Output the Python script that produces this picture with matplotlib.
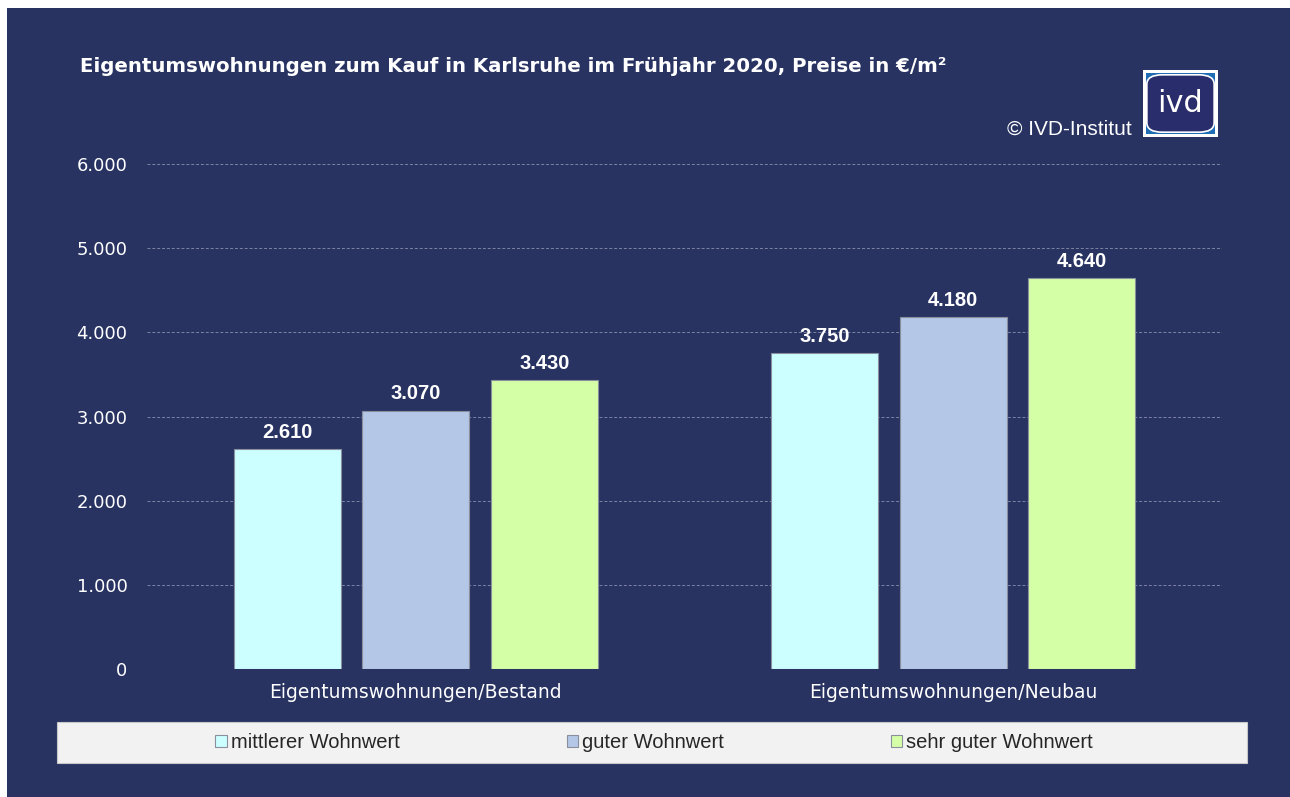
import matplotlib.pyplot as plt
from matplotlib.patches import Rectangle, FancyBboxPatch
from matplotlib.ticker import FuncFormatter

plt.rcParams['font.family'] = ['Liberation Sans', 'DejaVu Sans']

categories = ["Eigentumswohnungen/Bestand", "Eigentumswohnungen/Neubau"]
series_names = ["mittlerer Wohnwert", "guter Wohnwert", "sehr guter Wohnwert"]
mittlerer = [2610, 3750]
guter = [3070, 4180]
sehr_guter = [3430, 4640]
y_ticks = [0, 1000, 2000, 3000, 4000, 5000, 6000]

navy = "#283362"
colors = ["#ccffff", "#b4c7e7", "#d5ffa6"]

fig = plt.figure(figsize=(12.9, 7.97), dpi=100)
fig.patch.set_facecolor("white")
# dunkler Hintergrund
fig.patches.append(Rectangle((7 / 1290, 0), 1, 1 - 8 / 797, transform=fig.transFigure,
                             facecolor=navy, edgecolor="none", zorder=-10))

ax = fig.add_axes([147 / 1290, 1 - 669 / 797, 1075 / 1290, 505 / 797])
ax.set_facecolor("none")

x = range(len(categories))
width = 0.199
step = 0.239
for i, (vals, name) in enumerate(zip([mittlerer, guter, sehr_guter], series_names)):
    pos = [xi + (i - 1) * step for xi in x]
    bars = ax.bar(pos, vals, width, color=colors[i], edgecolor="#8a8f9e",
                  linewidth=0.8, label=name, zorder=3)
    for b, v in zip(bars, vals):
        ax.text(b.get_x() + b.get_width() / 2, v + 90, f"{v:,}".replace(",", "."),
                ha="center", va="bottom", color="white", fontsize=14.5, fontweight="bold")

ax.set_xlim(-0.5, 1.5)
ax.set_ylim(0, 6000)
ax.set_yticks(y_ticks)
ax.yaxis.set_major_formatter(FuncFormatter(lambda v, p: f"{int(v):,}".replace(",", ".")))
ax.set_xticks(list(x))
ax.set_xticklabels(categories)
ax.tick_params(axis="both", length=0, colors="white")
ax.tick_params(axis="y", pad=14)
ax.tick_params(axis="x", pad=10)
for lab in ax.get_yticklabels():
    lab.set_fontfamily(["DejaVu Sans"])
    lab.set_fontsize(13)
for lab in ax.get_xticklabels():
    lab.set_fontfamily(["DejaVu Sans"])
    lab.set_fontsize(13.5)
ax.grid(axis="y", color="#7d84a3", linestyle=(0, (3, 2)), linewidth=0.7, zorder=0)
for s in ax.spines.values():
    s.set_visible(False)

# Titel
fig.text(80 / 1290, 1 - 66 / 797, "Eigentumswohnungen zum Kauf in Karlsruhe im Frühjahr 2020, Preise in €/m²",
         color="white", fontsize=14.2, fontweight="bold", va="center", ha="left",
         family=["DejaVu Sans"])
fig.text(1132 / 1290, 1 - 129 / 797, "© IVD-Institut", color="white", fontsize=15,
         ha="right", va="center")

# ivd Logo
lx, ly, lw, lh = 1143 / 1290, 1 - 137 / 797, 75 / 1290, 67 / 797
fig.patches.append(Rectangle((lx, ly), lw, lh, transform=fig.transFigure,
                             facecolor="white", edgecolor="none", zorder=5))
fig.patches.append(Rectangle((lx + 3 / 1290, ly + 3 / 797), lw - 6 / 1290, lh - 6 / 797,
                             transform=fig.transFigure, facecolor="#1f6db3",
                             edgecolor="none", zorder=6))
fig.patches.append(FancyBboxPatch((lx + 9 / 1290, ly + 8 / 797), lw - 18 / 1290, lh - 16 / 797,
                                  boxstyle="round,pad=0.004,rounding_size=0.012",
                                  transform=fig.transFigure, facecolor="#2a2d6b",
                                  edgecolor="white", linewidth=1.2, zorder=7))
fig.text(lx + lw / 2, ly + lh / 2, "ivd", color="white", fontsize=22,
         ha="center", va="center", zorder=8, family=["DejaVu Sans"])

# Legende
fig.patches.append(Rectangle((57 / 1290, 1 - 763 / 797), 1190 / 1290, 41 / 797,
                             transform=fig.transFigure, facecolor="#f2f2f2",
                             edgecolor="#c8c8c8", linewidth=0.8, zorder=1))
handles, labels = ax.get_legend_handles_labels()
leg = fig.legend(handles, labels, loc="center", ncol=3,
                 bbox_to_anchor=(654 / 1290, 1 - 743 / 797), frameon=False,
                 fontsize=14.5, handlelength=0.55, handleheight=0.55, handletextpad=0.2,
                 columnspacing=8.3)
for t in leg.get_texts():
    t.set_color("#262626")

fig.savefig("out.png", dpi=100)
